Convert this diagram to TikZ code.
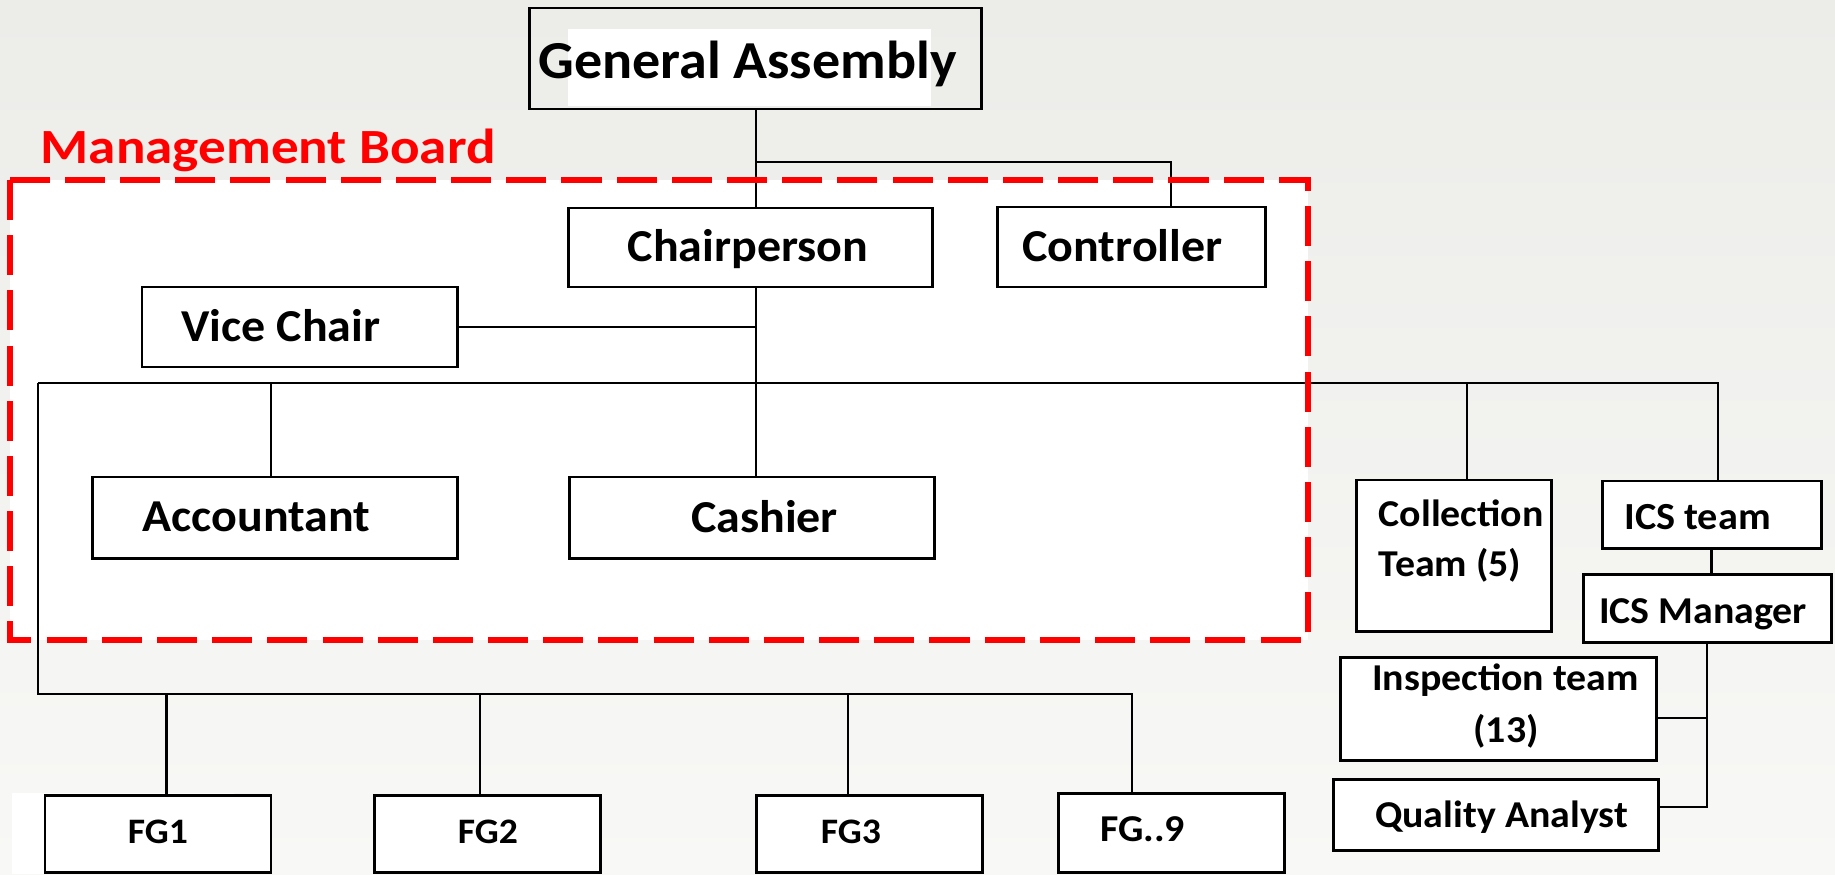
\documentclass[tikz,border=0pt]{standalone}
\usepackage{fontspec}
\setmainfont{Carlito}[FakeStretch=1.05]
\newfontfamily\mbfont{Carlito}[FakeStretch=1.12]
\usetikzlibrary{fit}
\definecolor{bgtop}{HTML}{ECECE9}
\definecolor{bgbot}{HTML}{F8F8F6}
\definecolor{mbred}{HTML}{FF0000}
\begin{document}
\begin{tikzpicture}[x=0.1mm,y=-0.1mm,
  box/.style={draw=black, line width=0.85pt, fill=white, inner sep=0pt, rectangle},
  conn/.style={draw=black, line width=0.6pt},
  lbl/.style={anchor=base, inner sep=0pt, font=\bfseries\fontsize{#1}{#1}\selectfont},
  lblw/.style={anchor=base west, inner sep=0pt, font=\bfseries\fontsize{#1}{#1}\selectfont},
  board/.style={draw=mbred, line width=1.5pt, dash pattern=on 11.4pt off 4.3pt}]
\useasboundingbox (0,0) rectangle (1835,874);
\shade[top color=bgtop, bottom color=bgbot] (0,0) rectangle (1835,874);
\fill[white] (12,793) rectangle (234,874);
% management board area
\fill[white] (10,180) rectangle (1308,640);
\fill[white] (568,29) rectangle (931,106);
% boxes
\node[box, fill=none, fit={(529,8) (981,109)}] (ga) {};
\node[box, fit={(568,208) (932,287)}] (chair) {};
\node[box, fit={(997,207) (1265,287)}] (ctrl) {};
\node[box, fit={(142,287) (457,367)}] (vice) {};
\node[box, fit={(92.5,477) (457,558)}] (acct) {};
\node[box, fit={(569.5,477) (934,558)}] (cash) {};
\node[box, fit={(1356,480) (1551,631)}] (coll) {};
\node[box, fit={(1602,481) (1821,548)}] (ics) {};
\node[box, fit={(1583,574) (1831,642)}] (icsm) {};
\node[box, fit={(1340,657) (1656,760)}] (insp) {};
\node[box, fit={(1333,779) (1658,850)}] (qa) {};
\node[box, fit={(45,795) (271,872)}] (fg1) {};
\node[box, fit={(374,795) (600,872)}] (fg2) {};
\node[box, fit={(756,795) (982,872)}] (fg3) {};
\node[box, fit={(1058,793) (1284,872)}] (fg9) {};
% texts
\node[lbl=15.2] (tga) at (747.5,79) {General Assembly};
\node[lblw=14.0, text=mbred] (tmb) at (40,163) {\mbfont Management Board};
\node[lbl=13.0] (tchair) at (748,261) {Chairperson};
\node[lbl=13.0] (tctrl) at (1122.5,262) {Controller};
\node[lbl=13.0] (tvice) at (281,341) {Vice Chair};
\node[lbl=13.0] (tacct) at (256.5,531) {Accountant};
\node[lbl=13.0] (tcash) at (764.5,532) {Cashier};
\node[lblw=10.8] (tcoll1) at (1378,526) {Collection};
\node[lblw=10.8] (tcoll2) at (1378,576) {Team (5)};
\node[lbl=10.9] (tics) at (1697.5,529) {ICS team};
\node[lbl=10.8] (ticsm) at (1703,623) {ICS Manager};
\node[lbl=10.8] (tinsp1) at (1505.5,690) {Inspection team};
\node[lbl=10.8] (tinsp2) at (1506,742) {(13)};
\node[lbl=10.8] (tqa) at (1501.5,827) {Quality Analyst};
\node[lbl=10.2] (tfg1) at (158,843) {FG1};
\node[lbl=10.2] (tfg2) at (488,843) {FG2};
\node[lbl=10.2] (tfg3) at (851,843) {FG3};
\node[lbl=10.8] (tfg9) at (1142.5,841) {FG..9};
% junction coordinates
\coordinate (jga) at (756,162);
\coordinate (jctl) at (1171,162);
\coordinate (bl) at (38,383);
\coordinate (br) at (1718,383);
\coordinate (xa) at (271,383);
\coordinate (xc) at (1467,383);
\coordinate (fl) at (38,694);
\coordinate (f1) at (166.5,694);
\coordinate (f2) at (480,694);
\coordinate (f3) at (848,694);
\coordinate (f4) at (1132,694);
\coordinate (mi) at (1707,718);
\coordinate (mq) at (1707,807);
% connectors
\draw[conn] (ga.south -| jga) -- (chair.north -| jga);
\draw[conn] (jga) -- (jctl) -- (jctl |- ctrl.north);
\draw[conn] (chair.south -| jga) -- (cash.north -| jga);
\draw[conn] (vice.east) -- (vice.east -| jga);
\draw[conn] (bl) -- (br) -- (br |- ics.north);
\draw[conn] (xa) -- (xa |- acct.north);
\draw[conn] (xc) -- (xc |- coll.north);
\draw[conn] (bl) -- (fl) -- (f4) -- (f4 |- fg9.north);
\draw[conn] (f1) -- (f1 |- fg1.north);
\draw[conn] (f2) -- (f2 |- fg2.north);
\draw[conn] (f3) -- (f3 |- fg3.north);
\draw[conn] (ics.south) -- (ics.south |- icsm.north);
\draw[conn] (icsm.south -| mq) -- (mq) -- (mq -| qa.east);
\draw[conn] (mi) -- (mi -| insp.east);
% dashed management board frame
\draw[board] (10,180) rectangle (1308,640);
\end{tikzpicture}
\end{document}
